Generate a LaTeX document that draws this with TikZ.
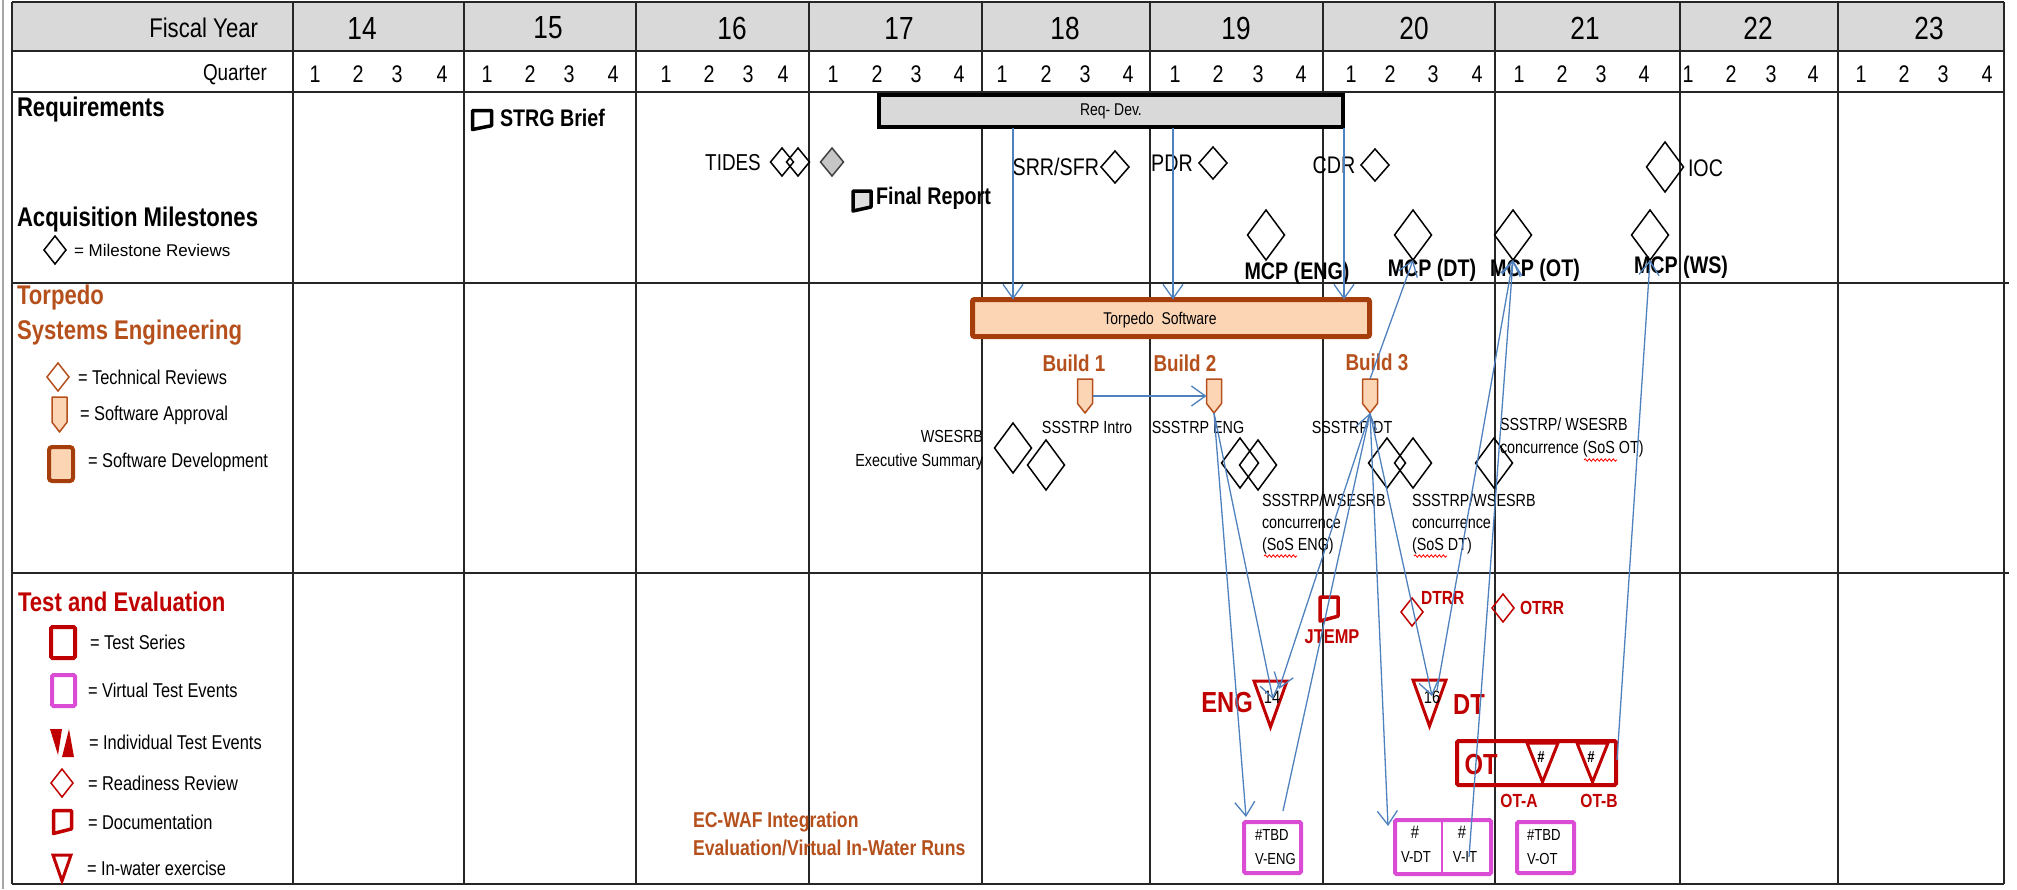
\documentclass[tikz,border=0pt]{standalone}
\usepackage{fontspec}
\usepackage{graphicx}
\setmainfont{Liberation Sans}[FakeStretch=0.82]
\newfontfamily\wide{Liberation Sans}
\usetikzlibrary{shapes.geometric,arrows.meta,calc,decorations.pathmorphing}
\definecolor{hdr}{HTML}{D9D9D9}
\definecolor{seor}{HTML}{B5501C}
\definecolor{peach}{HTML}{FCD5B5}
\definecolor{peachdk}{HTML}{A63E0C}
\definecolor{tered}{HTML}{C00000}
\definecolor{mag}{HTML}{DA4CD4}
\definecolor{arr}{HTML}{4F81BD}
\definecolor{gridc}{HTML}{262626}
\newcommand\fs[1]{\fontsize{#1}{#1}\selectfont}
\newcommand\docpath[3]{\draw[line width=3.5pt, draw=#2, fill=#3, line join=round] (#1.north west) -- (#1.north east) -- ($(#1.north east)!0.8!(#1.south east)$) -- (#1.south west) -- cycle;}
\newcommand\sapppath[1]{\draw[line width=1.5pt, draw=seor, fill=peach, line join=round] (#1.north west) -- (#1.north east) -- ($(#1.north east)!0.72!(#1.south east)$) -- (#1.south) -- ($(#1.north west)!0.72!(#1.south west)$) -- cycle;}
\newcommand\tripath[3]{\draw[line width=3pt, draw=#2, fill=#3, line join=miter] (#1.north west) -- (#1.north east) -- (#1.south) -- cycle;}
\tikzset{
  gl/.style={draw=gridc, line width=2pt},
  rev/.style={diamond, draw=black, line width=1.5pt, minimum width=28pt, minimum height=32pt, inner sep=0pt},
  revbig/.style={rev, minimum width=37pt, minimum height=50pt},
  revsm/.style={rev, minimum width=22pt, minimum height=28pt},
  conn/.style={draw=arr, line width=1.3pt, -{Straight Barb[length=14pt,width=20pt]}},
  wavy/.style={draw=red, line width=0.8pt, decorate, decoration={snake, amplitude=1.2pt, segment length=4pt}},
  vbox/.style={draw=mag, line width=4pt, rounded corners=1.5pt},
  tbox/.style={draw=tered, line width=4pt, rounded corners=1.5pt}
}
\begin{document}
\begin{tikzpicture}[x=1pt,y=-1pt, every node/.style={inner sep=0pt, outer sep=0pt}]
\useasboundingbox (0,0) rectangle (2017,889);
% ---------------- grid ----------------
\fill[hdr] (12,2) rectangle (2004,51);
\draw[gray!70, line width=2pt] (3,0) -- (3,889);
\foreach \y in {2,51,92,884} \draw[gl] (12,\y) -- (2004,\y);
\foreach \y in {283,573} \draw[gl] (12,\y) -- (2009,\y);
\foreach \x in {12,293,464,636,809,982,1150,1323,1495,1680,1838,2004} \draw[gl] (\x,2) -- (\x,884);
\node[anchor=east] (fy) at (258,28) {\fs{27}Fiscal Year};
\node[anchor=east] (qtr) at (267,75) {\fs{23}Quarter};
\foreach \x/\n in {362/14,548/15,732/16,899/17,1065/18,1236/19,1414/20,1585/21,1758/22,1929/23}
  \node (fy\n) at (\x,28) {\fs{32}\n};
\foreach \x [count=\i from 0] in {315,358,397,442,487,530,569,613,666,709,748,783,833,877,916,959,1002,1046,1085,1128,1175,1218,1258,1301,1351,1390,1433,1477,1519,1562,1601,1644,1688,1731,1771,1813,1861,1904,1943,1987}
  {\pgfmathtruncatemacro\qq{mod(\i,4)+1}\node (q\i) at (\x,74) {\fs{24}\qq};}
% ---------------- Requirements / Acquisition ----------------
\node[anchor=west] (req) at (17,110) {\fs{27}\bfseries Requirements};
\node[anchor=west] (acq) at (17,220) {\fs{27}\bfseries Acquisition Milestones};
\node[revsm] (legms) at (55,250) {};
\node[anchor=west] (legmst) at (74,250) {\wide\fs{17}= Milestone Reviews};
\node[minimum width=19pt, minimum height=19pt] (strgi) at (482,120) {};
\docpath{strgi}{black}{white}
\node[anchor=west] (strg) at (500,118) {\fs{24}\bfseries STRG Brief};
\node[draw=black, line width=4pt, fill=hdr, minimum width=464pt, minimum height=32pt] (reqdev) at (1111,111) {\fs{17}Req- Dev.};
\node (tides) at (733,163) {\fs{23}TIDES};
\node[revsm, minimum width=23pt] (td1) at (782,162) {};
\node[revsm, minimum width=23pt] (td2) at (798,162) {};
\node[revsm, minimum width=23pt, fill=gray!45, draw=black!75] (td3) at (832,162) {};
\node[minimum width=18pt, minimum height=20pt] (fri) at (862,201) {};
\docpath{fri}{black}{gray!25}
\node[anchor=west] (fr) at (876,198) {\fs{24}\bfseries Final Report};
\node[anchor=east] (srrt) at (1099,167) {\fs{24}SRR/SFR};
\node[rev] (srr) at (1115,167) {};
\node (pdrt) at (1172,163) {\fs{24}PDR};
\node[rev] (pdr) at (1213,163) {};
\node (cdrt) at (1334,165) {\fs{24}CDR};
\node[rev] (cdr) at (1375,165) {};
\node[revbig] (ioc) at (1665,167) {};
\node[anchor=west] (ioct) at (1688,168) {\fs{24}IOC};
\node[revbig] (mcpeng) at (1266,235) {};
\node[revbig] (mcpdt) at (1413,235) {};
\node[revbig] (mcpot) at (1513,235) {};
\node[revbig] (mcpws) at (1650,235) {};
\node (mcpengt) at (1297,273) {\fs{24}\bfseries MCP (ENG)};
\node (mcpdtt) at (1432,270) {\fs{24}\bfseries MCP (DT)};
\node (mcpott) at (1535,270) {\fs{24}\bfseries MCP (OT)};
\node (mcpwst) at (1681,267) {\fs{24}\bfseries MCP (WS)};
% ---------------- Torpedo Systems Engineering ----------------
\node[anchor=west] (tse1) at (17,298) {\color{seor}\fs{27}\bfseries Torpedo};
\node[anchor=west] (tse2) at (17,333) {\color{seor}\fs{27}\bfseries Systems Engineering};
\node[revsm, draw=seor] (legtr) at (58,377) {};
\node[anchor=west] (legtrt) at (78,377) {\fs{20}= Technical Reviews};
\node[minimum width=15pt, minimum height=35pt] (legsa) at (59.5,414.5) {};
\sapppath{legsa}
\node[anchor=west] (legsat) at (80,415) {\fs{20}= Software Approval};
\node[draw=peachdk, fill=peach, line width=4pt, rounded corners=3pt, minimum width=24pt, minimum height=34pt] (legsd) at (61,464) {};
\node[anchor=west] (legsdt) at (88,462) {\fs{20}= Software Development};
\node[draw=peachdk, fill=peach, line width=5pt, rounded corners=2pt, minimum width=397pt, minimum height=37pt] (tsbar) at (1171,318) {};
\node (tstext) at (1160,320) {\fs{17}Torpedo\ \ Software};
\node (b1t) at (1074,363) {\color{seor}\fs{23}\bfseries Build 1};
\node (b2t) at (1185,363) {\color{seor}\fs{23}\bfseries Build 2};
\node (b3t) at (1377,362) {\color{seor}\fs{23}\bfseries Build 3};
\node[minimum width=15pt, minimum height=34pt] (b1) at (1085,396) {};
\node[minimum width=15pt, minimum height=34pt] (b2) at (1214,396) {};
\node[minimum width=15pt, minimum height=34pt] (b3) at (1370,396) {};
\sapppath{b1}\sapppath{b2}\sapppath{b3}
\node (s1) at (1087,427) {\fs{17.5}SSSTRP Intro};
\node (s2) at (1198,427) {\fs{17.5}SSSTRP ENG};
\node (s3) at (1352,427) {\fs{17.5}SSSTRP DT};
\node[anchor=east, align=right, font=\fontsize{17.5}{24}\selectfont] (wses) at (983,450) {WSESRB\\Executive Summary};
\node[revbig] (d1) at (1013,448) {};
\node[revbig] (d2) at (1046,465) {};
\node[revbig] (d3) at (1240,463) {};
\node[revbig] (d4) at (1258,465) {};
\node[revbig] (d5) at (1387,463) {};
\node[revbig] (d6) at (1413,463) {};
\node[revbig] (d7) at (1494,463) {};
\node[anchor=west, align=left, font=\fontsize{17.5}{22}\selectfont] (ceng) at (1262,524) {SSSTRP/WSESRB\\concurrence\\(SoS ENG)};
\node[anchor=west, align=left, font=\fontsize{17.5}{22}\selectfont] (cdt) at (1412,524) {SSSTRP/WSESRB\\concurrence\\(SoS DT)};
\node[anchor=west, align=left, font=\fontsize{17.5}{23}\selectfont] (cot) at (1500,437) {SSSTRP/ WSESRB\\concurrence (SoS OT)};
\draw[wavy] (1264,556) -- (1297,556);
\draw[wavy] (1414,556) -- (1447,556);
\draw[wavy] (1584,460) -- (1617,460);
% ---------------- Test and Evaluation ----------------
\node[anchor=west] (tae) at (18,602) {\color{tered}\fs{27}\bfseries Test and Evaluation};
\draw[tbox] (51,627) rectangle (75,658);
\draw[vbox] (52,675) rectangle (75,706);
\fill[tered] (50,729) -- (62,729) -- (58,755) -- cycle;
\fill[tered] (69,729) -- (62,757) -- (74,757) -- cycle;
\node[revsm, draw=tered] (legrr) at (62,783) {};
\node[minimum width=18pt, minimum height=23pt] (legdoc) at (62.5,822) {};
\docpath{legdoc}{tered}{white}
\draw[draw=tered, line width=3pt] (53,855) -- (71,855) -- (62,881) -- cycle;
\node[anchor=west] (l1) at (90,642) {\fs{20}= Test Series};
\node[anchor=west] (l2) at (88,690) {\fs{20}= Virtual Test Events};
\node[anchor=west] (l3) at (89,742) {\fs{20}= Individual Test Events};
\node[anchor=west] (l4) at (88,783) {\fs{20}= Readiness Review};
\node[anchor=west] (l5) at (88,822) {\fs{20}= Documentation};
\node[anchor=west] (l6) at (87,868) {\fs{20}= In-water exercise};
\node[anchor=west, align=left, text=seor, font=\fontsize{21.5}{28}\selectfont\bfseries] (ecwaf) at (693,834) {EC-WAF Integration\\Evaluation/Virtual In-Water Runs};
\node[minimum width=18pt, minimum height=24pt] (jtempi) at (1329,609) {};
\docpath{jtempi}{tered}{white}
\node (jtemp) at (1332,637) {\color{tered}\fs{20}\bfseries JTEMP};
\node[revsm, draw=tered] (dtrr) at (1412,612) {};
\node[anchor=west] (dtrrt) at (1421,598) {\color{tered}\fs{19}\bfseries DTRR};
\node[revsm, draw=tered] (otrr) at (1503,608) {};
\node[anchor=west] (otrrt) at (1520,608) {\color{tered}\fs{19}\bfseries OTRR};
\node[minimum width=33pt, minimum height=46pt] (engtri) at (1270.5,704) {};
\tripath{engtri}{tered}{white}
\node (n14) at (1272,697) {\fs{18}14};
\node (engl) at (1227,703) {\color{tered}\fs{29}\bfseries ENG};
\node[minimum width=33pt, minimum height=46pt] (dttri) at (1429.5,703) {};
\tripath{dttri}{tered}{white}
\node (n16) at (1432,697) {\fs{18}16};
\node (dtl) at (1469,705) {\color{tered}\fs{29}\bfseries DT};
\node[tbox, minimum width=159pt, minimum height=44pt] (otbox) at (1536.5,763) {};
\node (otl) at (1481,765) {\color{tered}\fs{29}\bfseries OT};
\node[minimum width=31pt, minimum height=39pt] (ota) at (1542.5,762.5) {};
\tripath{ota}{tered}{white}
\node[minimum width=31pt, minimum height=39pt] (otb) at (1592.5,762.5) {};
\tripath{otb}{tered}{white}
\node (otan) at (1541,757) {\fs{16}\bfseries\#};
\node (otbn) at (1591,757) {\fs{16}\bfseries\#};
\node (otat) at (1519,801) {\color{tered}\fs{19}\bfseries OT-A};
\node (otbt) at (1599,801) {\color{tered}\fs{19}\bfseries OT-B};
\node[vbox, minimum width=57pt, minimum height=51pt] (veng) at (1272.5,847.5) {};
\node[anchor=west, align=left, font=\fontsize{16}{24}\selectfont] (vengt) at (1255,847) {\#TBD\\V-ENG};
\node[vbox, minimum width=96pt, minimum height=54pt] (vdt) at (1443,847) {};
\draw[draw=mag, line width=2pt] (1442,820) -- (1442,874);
\node (vdth) at (1415,832) {\fs{18}\#};
\node (vdtt) at (1416,857) {\fs{16}V-DT};
\node (vith) at (1462,832) {\fs{18}\#};
\node (vitt) at (1465,857) {\fs{16}V-IT};
\node[vbox, minimum width=57pt, minimum height=51pt] (vot) at (1545.5,847.5) {};
\node[anchor=west, align=left, font=\fontsize{16}{24}\selectfont] (vott) at (1527,847) {\#TBD\\V-OT};
% ---------------- connectors ----------------
\coordinate (ra) at (1013,128);
\coordinate (rb) at (1173,128);
\coordinate (rc) at (1344,128);
\draw[conn] (ra) -- (ra |- tsbar.north);
\draw[conn] (rb) -- (rb |- tsbar.north);
\draw[conn] (rc) -- (rc |- tsbar.north);
\draw[conn] (b1.east) -- (b2.west);
\coordinate (vengin) at (1246,817);
\coordinate (vengout) at (1283,811);
\coordinate (engin) at (1273,699);
\coordinate (engin2) at (1279,689);
\coordinate (vdtin) at (1388,826);
\coordinate (dtin) at (1432,696);
\coordinate (dtout) at (1437,690);
\coordinate (vitout) at (1469,857);
\coordinate (otout) at (1617,760);
\draw[conn] (b2.south) -- (vengin);
\draw[conn] (b2.south) -- (engin);
\draw[conn] (b3.south) -- (engin2);
\draw[conn] (vengout) -- (b3.south);
\draw[conn] (b3.south) -- (vdtin);
\draw[conn] (b3.south) -- (dtin);
\draw[conn] (dtout) -- (mcpot.south);
\draw[conn] (vitout) -- (mcpot.south);
\draw[conn] (b3.north) -- (mcpdt.south);
\draw[conn] (otout) -- (mcpws.south);
\end{tikzpicture}
\end{document}
